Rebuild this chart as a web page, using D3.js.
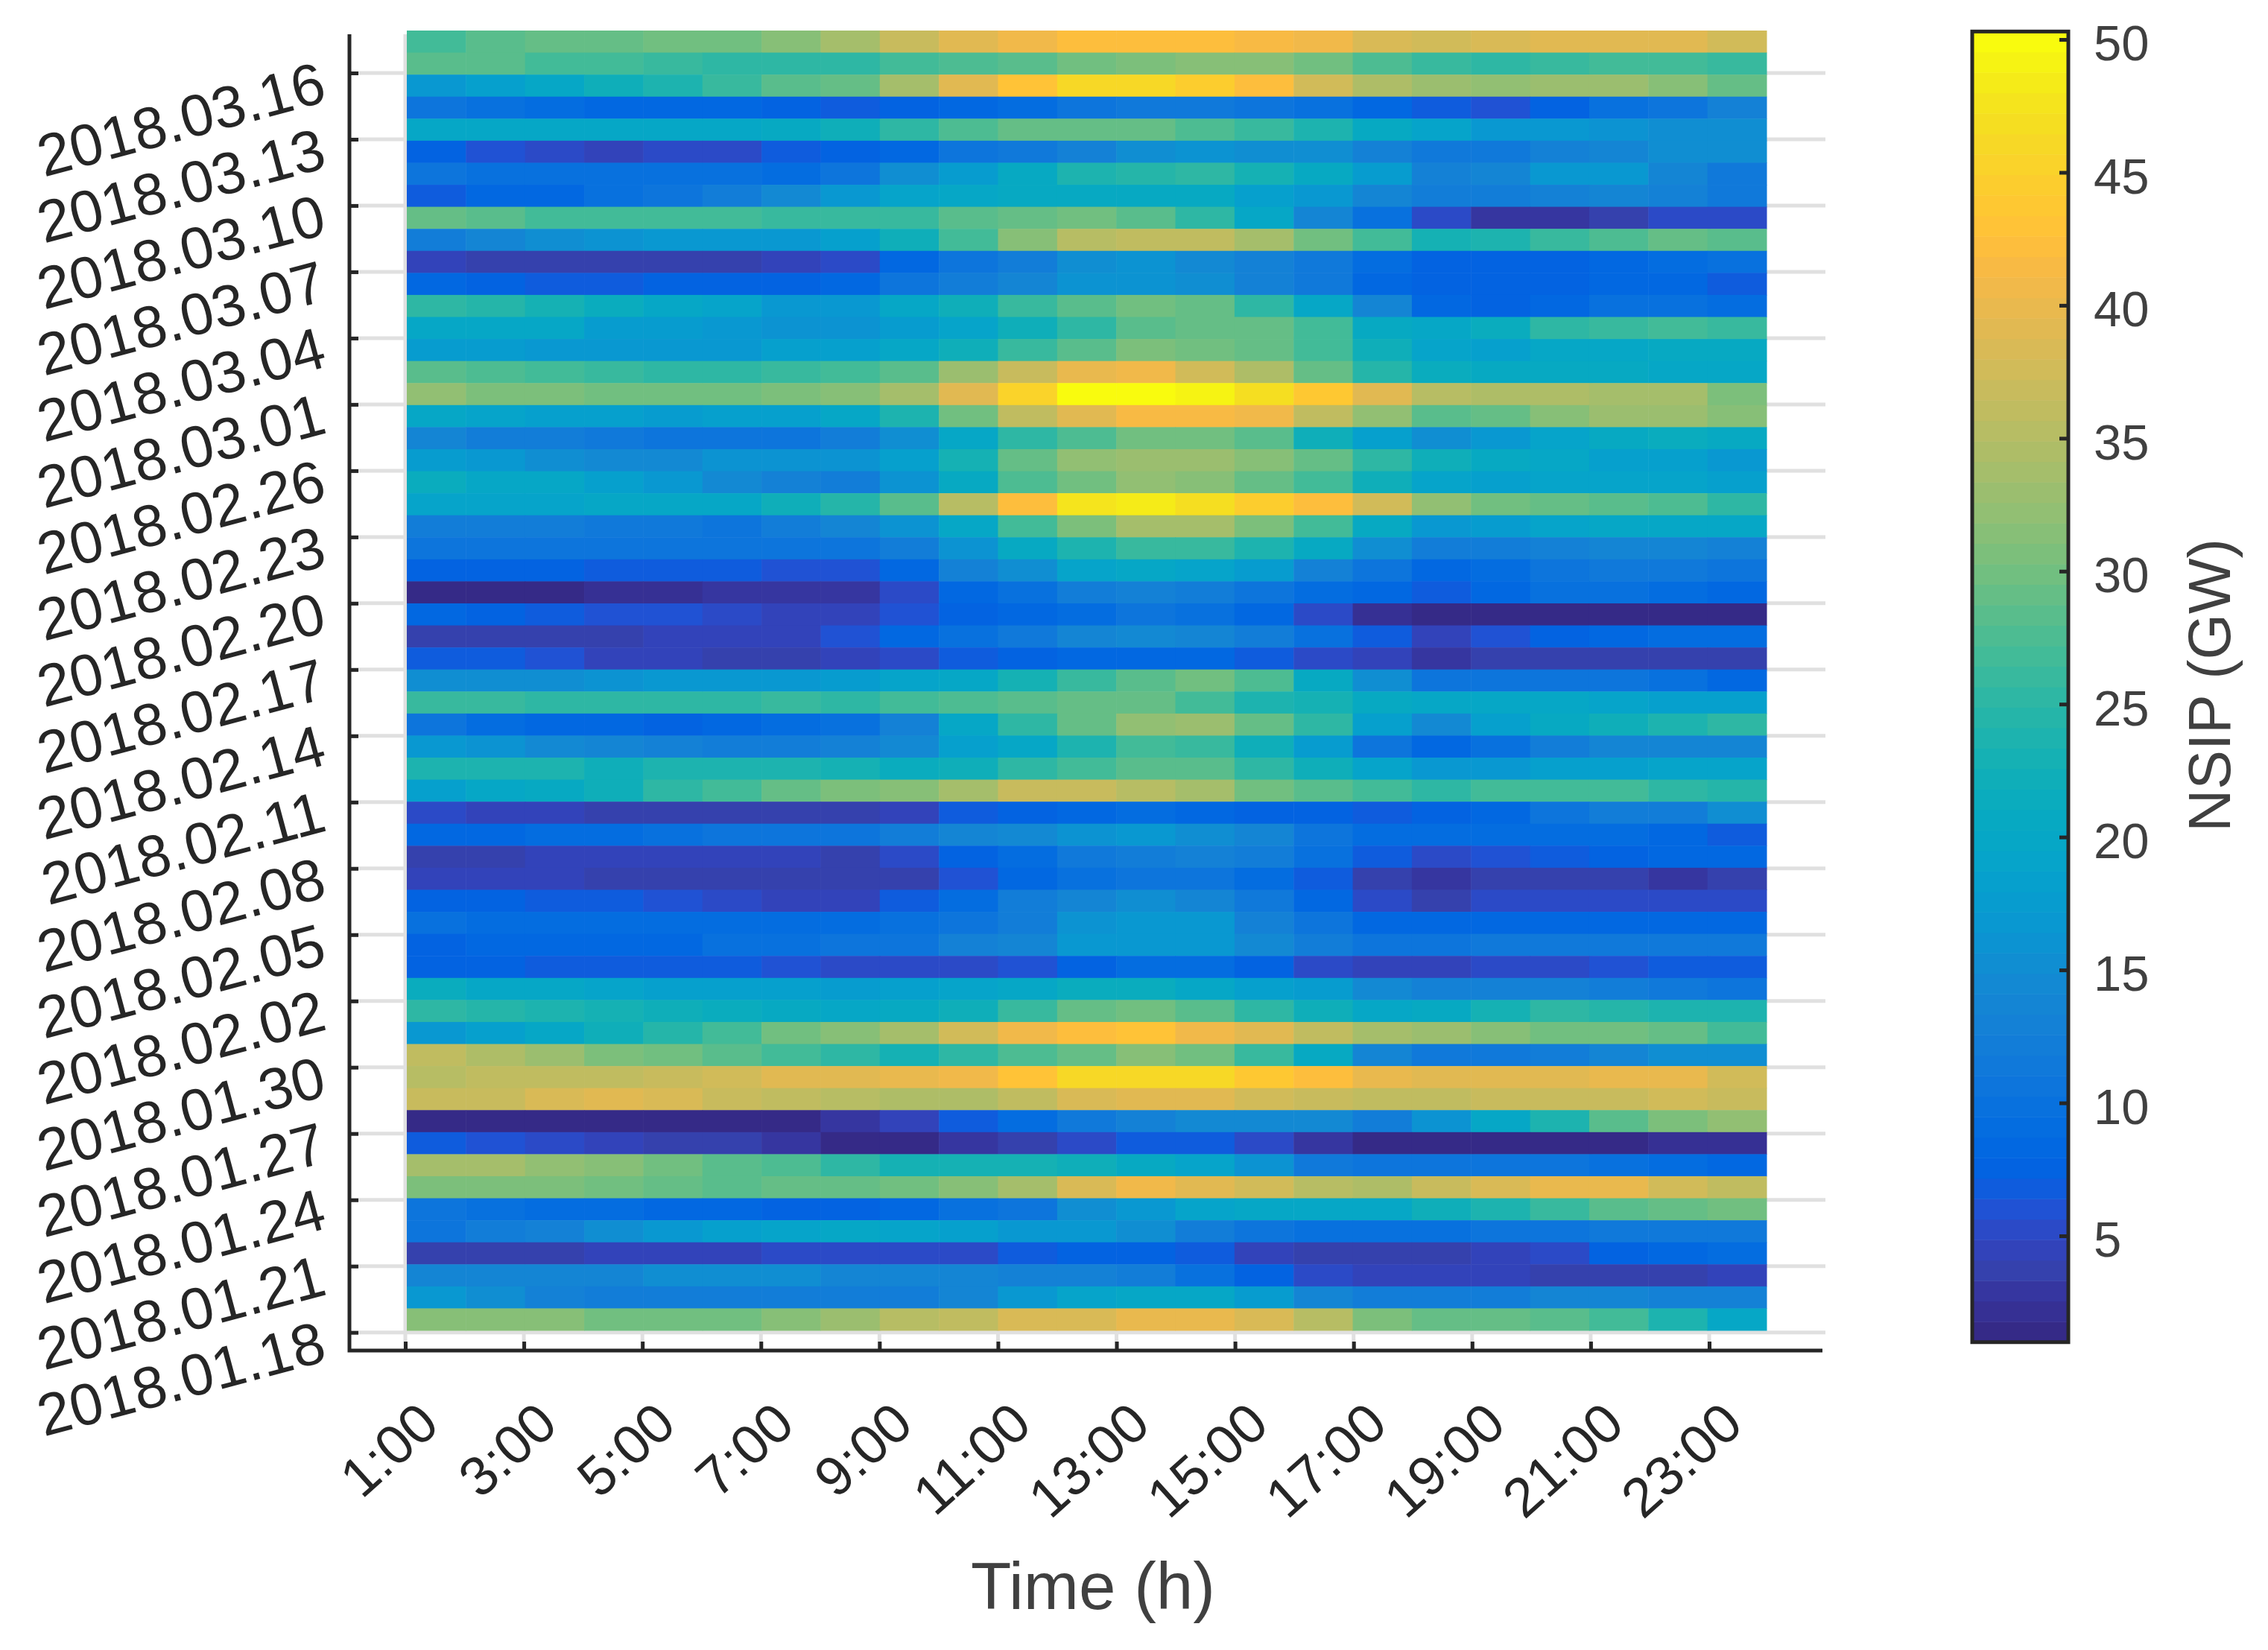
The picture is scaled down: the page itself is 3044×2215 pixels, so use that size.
<!DOCTYPE html>
<html>
<head>
<meta charset="utf-8">
<script src="https://cdn.jsdelivr.net/npm/d3@7"></script>
<style>
  body { margin: 0; background: #fff; }
  text { font-family: "Liberation Sans", Arial, sans-serif; }
</style>
</head>
<body>
<svg id="chart" width="3044" height="2215"></svg>
<script>
// Tick labels
const dateTicks = ["2018.01.18","2018.01.21","2018.01.24","2018.01.27","2018.01.30","2018.02.02","2018.02.05",
  "2018.02.08","2018.02.11","2018.02.14","2018.02.17","2018.02.20","2018.02.23","2018.02.26","2018.03.01",
  "2018.03.04","2018.03.07","2018.03.10","2018.03.13","2018.03.16"];
const hourTicks = [1,3,5,7,9,11,13,15,17,19,21,23];
const colorTicks = [5,10,15,20,25,30,35,40,45,50];

// MATLAB parula, 64 steps
const parula = ["#352a87","#363094","#3636a0","#3541ad","#3243ba","#2b4ac7","#2052d4","#0f5cdd","#0363e1","#0268e1",
  "#046de0","#0871de","#0d75dc","#1079da","#127dd8","#1481d6","#1485d4","#1389d3","#108ed2","#0c93d2",
  "#0998d1","#079ccf","#06a0cd","#06a4ca","#06a7c6","#07a9c2","#0aacbe","#0faeb9","#15b1b4","#1db3af",
  "#25b5a9","#2eb7a4","#38b99e","#42bb98","#4dbc92","#59bd8c","#65be86","#71bf80","#7cbf7b","#87bf77",
  "#92bf73","#9bbe6f","#a5be6b","#aebd67","#b7bd64","#c0bc60","#c8bb5d","#d1bb59","#d9ba56","#e1b952",
  "#e9b94e","#f1b94a","#f8ba44","#fdbe3d","#ffc337","#fec832","#fccd2e","#fad32a","#f7d826","#f5de21",
  "#f5e41d","#f5eb18","#f6f313","#f9fb0e"];

// NSIP in GW, one row per day, last day first, hours 1 to 23
const nsip = [
  [27,28,29,29.3,30,30,31.5,33.7,37,39,41,42,42.5,42.5,41.5,40.5,38,37.5,38,39.2,39.2,39.2,37.6],
  [28,28,26.8,26.8,26,25.2,25.2,25.2,26.5,27.5,28,30,30.7,31.5,31.5,30,27.8,26,25.2,26,26.8,26.8,26],
  [16.8,18.3,20,22,23.7,26,28,29,33.7,39,43,46,46,44.5,42.2,37.6,34.5,33,32.2,33,33,31.4,29],
  [10.6,10.2,9,8.3,8.3,8.3,7.5,6.8,7.5,8.3,9.1,11,11.4,11.4,11,10.2,8.3,6.8,5.8,7.9,9.6,10.3,13],
  [19.5,19.5,19.5,19.5,19.9,19.9,20.6,22,25,27.6,29,29.5,29.4,27.6,26,24,21,19,17,16.5,16,15.5,15],
  [7.5,6.2,5.5,4.8,5.5,5.5,6.4,7.5,8.3,10.4,11.5,13,15,16,15.6,15,13,11.6,11.2,12.6,14,15.3,15.5],
  [11,10,9.8,9.8,9.8,9.8,9.4,11,15,17.6,20.6,23.5,24.2,25.5,23,20.6,17.6,12.8,14,17,17,13.8,11.2],
  [6.8,8,8.5,10.2,10.8,12,14.5,17,19,20,20.5,21,21,20.8,18.5,17,14,12.4,12,13,13.4,13.2,11.4],
  [29,28,27,27,27,27,26.3,26.3,26.3,28,29.4,30,28.5,25.5,19.8,14,9.5,5.2,3,3,4,5,5],
  [12.5,14,15,16,16.8,16.8,16.8,18.3,22,26.8,31.5,35.3,36,35.8,33.7,30,26.5,23,23.7,26,27.8,29,28.5],
  [4.6,3.8,3.8,3.8,3.8,3.8,4.7,5.6,8.3,10.4,12.5,15.5,16,14.5,13,11.2,9,7.5,7.2,7.6,8.2,9,10.2],
  [8.2,7.5,6.7,6.7,7.2,7.4,7.5,8,10.3,12.5,13.5,16,16,15.3,13,11.2,8.6,7.5,7.4,7.8,8,8.4,6.6],
  [25,24.2,23,21.4,20,18.8,17,17,19.5,22.5,26,28.5,30,29,25.3,19.5,13.5,8,7.5,8,9.8,10,9],
  [20,20,19.5,17.5,17.5,17,16,16,17.5,19,22,25,28.5,29.5,29.5,26.5,20.3,20,21.5,25.3,26,26.5,26],
  [17.5,17.5,16.5,16.5,17,17,18,18.5,19.5,22,26,28.7,31,30,29.4,26.5,22,19,18.2,20,20,20.8,20.8],
  [28.3,27.8,27,26,25.2,25.2,26,27,28.5,33,36.5,40,40.5,37.5,34.5,29.4,24.5,21.6,20.5,21,21,20,19.5],
  [32,31,30.5,30,30,30,30.7,31.6,34,39.5,45.5,50,50,49,47,43.8,39.5,35.5,34.5,34.5,33.8,33.8,30.5],
  [19.5,19,18.5,18,17.5,18.3,18.6,20,23.5,30,36,39.5,41.5,41.5,40.5,36.3,32,28.3,29.3,31.5,33,33,31.8],
  [14,12.2,12.2,11.4,11,11,11,12.5,15,20,25,27.7,30,30,28.3,22.5,18.5,15.5,16.5,19,21,21.4,21],
  [17.5,17,15,14.5,14.5,16,16,16,18.3,23,29.5,32,33.3,33.3,31.7,29.5,25,22.5,20.5,20,18.3,18,16.5],
  [21.4,20,19.5,18,17,14.8,13,12.2,16,21,27.5,30,32,31.5,29,26.5,22,19,18.5,19.2,19.2,19.2,18.5],
  [19,19,19,19.5,19.5,20,22,24.5,28.5,35.3,42.5,47.5,48,47,44.7,42.5,37.8,32,30,29.3,28.5,27.6,25.3],
  [12.5,12,11.8,11.5,11.2,11,12,13.8,16,20,27,31,33.5,33.5,30.5,26.8,20.5,17,17.8,19,19.5,19.8,19.8],
  [10.4,10.4,10.4,10.4,10.4,10.4,10.4,10.4,12,16,20.5,24,26,26,23.7,20.5,15,11.8,12.2,13.2,13.4,13.4,13.2],
  [7.9,7.9,7.9,6.8,6.8,6.8,5.7,5.7,8,12.8,15.5,19.2,20,19.2,17.5,13,10.4,8,9.2,10.6,11.2,11.3,10.8],
  [1.3,1.3,1.3,2,2,2.6,2.6,3.2,5.5,8.3,10,12.5,12.8,12.2,10.5,8.8,8,6.8,8,9.8,9.8,9,8.3],
  [8,7.7,6.8,5.7,5.7,5,4.5,4.5,5.7,7.3,8.6,9,10.6,10,8.6,5,2.5,1.3,1.3,1.3,1.3,1.3,1.3],
  [3.4,3.7,3.7,3.7,4.8,4.8,4.8,5.8,8,10,11.2,13.4,14.5,13.4,12,9.8,6.8,4.8,5.8,7.6,8,8.8,8.8],
  [6.7,6.6,5.7,4.5,4.5,3.7,3.7,4.5,5,6.8,7.8,8,8,8,6.8,5,4.5,3.3,3.7,3.7,3.7,3.7,3.7],
  [15,15.5,15.5,16,16.8,16.8,16.8,17.5,19,20,23,26,28.5,30,27.5,21,15.5,11,11,11,11,9.5,8],
  [26,26,25,25,25,25.5,26,25.3,27,27.8,28.4,29.4,29.4,26.5,24,23,21,20,19.8,19.8,19,18,18.5],
  [10.4,9,8,8,7.8,8,9,10,13,19.5,25,29.5,32,33,29,25.5,18,14.5,18.5,21,22,24,25],
  [17,16,14.5,13.8,12.8,12,12.5,13,14.5,18,20,23.5,26.5,26,22.5,17.5,10.6,8,10,12.5,14,14,13.4],
  [23.5,23.5,23.5,22.5,23.5,23.7,23.7,22.8,21.5,22.5,25.5,26.5,28.5,28,25,22,19,17,17,18,18.5,18.8,19],
  [18.5,20,21,22.5,25,27,29.3,30.7,31.7,34,36.5,36.5,35,33.5,30,28.5,26.5,25.5,27,26.5,26.5,25,24.5],
  [5.2,4.5,4.5,3.7,3.7,3.7,3.7,3.7,4.5,6.7,7.5,8,8.8,8.2,7.8,7.6,6.8,7.2,8,10.6,12,12.5,15],
  [8.5,8.5,9,9,9.5,10.4,10.4,10.8,12,14,14.5,16,16.5,15.5,13.5,10.8,9,9,9.3,9.3,8.8,8,6.6],
  [3.7,3.7,4.5,4.5,4.5,4.5,4.5,3.7,5.2,7.5,9,11.5,12.5,13,12,9.5,7,5,5.8,6.8,7.6,8.2,8.3],
  [4.5,4.5,4.5,3.7,3.7,3.7,3.7,3.7,3.9,5.9,8.5,10,10.6,10.3,9,6.5,3.7,2.9,3.7,3.7,3.7,2.9,3.4],
  [7.6,7.6,7,7,6,5.2,4.5,4.5,7,9,12,14,15.5,13.5,11.5,8.5,5.2,3.7,5.2,5.2,5.2,5.2,5.2],
  [10.2,9.2,9.2,9.2,9.2,9.2,9.2,9,9.8,11,12.5,16,16.8,16.8,13,10.4,8.3,8.3,8.3,8.3,8.3,8.3,8],
  [7.8,8.3,8.6,8.6,8.6,9.5,9.5,10.4,10.6,13,13.5,16.8,17,17,14.5,12.5,11,11,11.5,11.5,11.5,11.5,11.5],
  [7.5,7.5,6.9,6.9,6.9,6.9,5.8,5.2,5.2,5.4,5.7,7.8,8.8,8.8,7.8,5.5,4.5,4.5,5.2,5.2,5.8,6.8,6.8],
  [21.4,20,19.5,19,18.6,18.6,18,17.8,18,19,20,21.5,21.5,20,18.5,17.6,14.5,13,12.8,12.8,12,11.3,10.5],
  [25,24.2,23.5,22.8,22,21.5,20.6,20,20.6,22.5,26,29.5,30,28.5,25.3,21.8,19.5,21,23,25,24.5,24,24],
  [16.5,18.3,20,22,24.3,26.8,30,31.7,34,37.5,41,42.5,43.2,41,38.8,36.2,34,33.2,31.6,30,29.8,29,26.8],
  [36.3,34.5,33,31,30,28.4,26.8,25.2,23,25,27.5,29.5,31.8,30,26,20.4,14,11.7,11.4,11.9,13.8,15,15.5],
  [35.3,36,36,36,37,37.8,39.5,39.5,40,41,43,45.8,46,46,43.5,42.5,40,39.5,39.3,39,40.2,40.2,37.8],
  [36.5,36.5,38,39,38,37,36,35.3,34.3,34.3,36,38,39.5,39.5,37.8,37,36,36,36.8,36.8,36.8,37.6,37],
  [1.6,1.6,1.6,1.6,1.6,1.6,1.6,3,4.4,7,9,11.5,13.3,14.5,14.8,14.5,12.5,15.8,19.5,23.7,28,30.8,32],
  [7,6,5.2,4.4,3.6,3.6,2.8,1.4,1.4,2.6,3.4,5,6.8,6.8,5,2.8,1.3,1.3,1.3,1.3,1.3,1.8,1.8],
  [34,33.8,32,31.6,30,28.5,27.6,25,23.3,22.6,23,22.5,21,19,15.8,11.3,10.4,10.4,10.4,10.8,10,9.2,8],
  [31,31,31,29.8,29.3,28.3,29.3,29.3,30,31.5,34,38,40.5,39.5,37.5,35,34.5,37,38.5,39.8,39.8,37.5,36],
  [10.6,10,9.2,9,8.5,8.5,7.9,7.9,8,9.5,11,15,17,19,19.5,19.5,20,22,23.5,26,28,29,30],
  [11,12.5,13,15,16.8,18,19,20,19,18,17,16.5,15,12.2,10.4,9.6,9.5,10,11,11,11.2,11.2,11.2],
  [3.7,3.7,3.7,4.7,4.7,4.7,5.6,5.6,5.6,5.6,6.8,7.3,7.8,6.8,4.8,3.7,3.7,3.7,4.7,5.5,7.5,8.6,8.8],
  [14,14,14,14,15,15,15,14,14,14,13,13,12,9.6,7.8,5,4.5,4.5,4.5,3.7,3.7,3.7,4.5],
  [17,15,12.8,12,12,12,12,12,12,14,16.5,19,20,19.9,17.5,14,11.8,12,12.5,13.5,13.8,12.8,12.8],
  [31.5,31.5,31.5,29.8,29.8,29.8,31.5,33,35.3,36,38,38,40,40,38.5,35.5,31,29.5,28.8,28,26.8,24,20]
];

const ink = "#262626";
const grey = "#404040";
const gridColor = "#e0e0e0";
const numDays = nsip.length;
const numHours = nsip[0].length;

const svg = d3.select("#chart");

// scales: ticks and cells sit a little apart in the picture
const xTick = d3.scaleLinear().domain([1, 23]).range([544, 2294]);
const yTick = d3.scaleLinear().domain([0, 57]).range([1788.7, 98]);
const xCell = d3.scaleLinear().domain([0, numHours]).range([546, 2371]);
const yCell = d3.scaleLinear().domain([0, numDays]).range([1786, 41]);
const color = d3.scaleQuantize().domain([1, 50.3]).range(parula);

// grid behind the cells
const grid = svg.append("g").attr("stroke", gridColor).attr("stroke-width", 5);
grid.selectAll("line.h")
  .data(dateTicks)
  .enter()
  .append("line")
  .attr("class", "h")
  .attr("x1", 471)
  .attr("x2", 2450)
  .attr("y1", (d, i) => yTick(i * 3))
  .attr("y2", (d, i) => yTick(i * 3));
grid.selectAll("line.v")
  .data(hourTicks)
  .enter()
  .append("line")
  .attr("class", "v")
  .attr("x1", (d) => xTick(d))
  .attr("x2", (d) => xTick(d))
  .attr("y1", 46)
  .attr("y2", 1811);

// heat map cells
nsip.forEach((row, i) => {
  const day = numDays - 1 - i;
  svg.append("g")
    .selectAll("rect")
    .data(row)
    .enter()
    .append("rect")
    .attr("x", (d, h) => xCell(h))
    .attr("y", yCell(day + 1))
    .attr("width", (d, h) => xCell(h + 1) - xCell(h) + 0.5)
    .attr("height", yCell(day) - yCell(day + 1) + 0.5)
    .attr("fill", (d) => color(d));
});

// x axis
const xAxis = d3.axisBottom(xTick)
  .tickValues(hourTicks)
  .tickSize(-12)
  .tickFormat((d) => d + ":00");
const xG = svg.append("g")
  .attr("transform", "translate(0,1813)")
  .call(xAxis);
xG.select(".domain").remove();
xG.selectAll(".tick line").attr("stroke", ink).attr("stroke-width", 5);
xG.selectAll(".tick text")
  .attr("font-size", 74)
  .attr("fill", ink)
  .attr("text-anchor", "end")
  .attr("transform", "translate(48,104) rotate(-42)")
  .attr("x", 0)
  .attr("y", 0)
  .attr("dy", 0);

// y axis
const yAxis = d3.axisLeft(yTick)
  .tickValues(dateTicks.map((d, i) => i * 3))
  .tickSize(-12)
  .tickFormat((d) => dateTicks[d / 3]);
const yG = svg.append("g")
  .attr("transform", "translate(469,0)")
  .call(yAxis);
yG.select(".domain").remove();
yG.selectAll(".tick line").attr("stroke", ink).attr("stroke-width", 5);
yG.selectAll(".tick text")
  .attr("font-size", 79)
  .attr("fill", ink)
  .attr("text-anchor", "end")
  .attr("transform", "translate(-28,37) rotate(-15)")
  .attr("x", 0)
  .attr("y", 0)
  .attr("dy", 0);

// axis lines
svg.append("path")
  .attr("d", d3.line()([[469, 46], [469, 1813], [2446, 1813]]))
  .attr("fill", "none")
  .attr("stroke", ink)
  .attr("stroke-width", 5);

svg.append("text")
  .attr("x", 1467)
  .attr("y", 2160)
  .attr("text-anchor", "middle")
  .attr("font-size", 89)
  .attr("fill", grey)
  .text("Time (h)");

// colorbar
const yBar = d3.scaleLinear().domain([5, 50]).range([1659, 53]);
const barLeft = 2647;
const barWidth = 129;
const barSteps = parula.map((c) => color.invertExtent(c));

svg.append("g")
  .selectAll("rect")
  .data(barSteps)
  .enter()
  .append("rect")
  .attr("x", barLeft)
  .attr("y", (d) => yBar(d[1]))
  .attr("width", barWidth)
  .attr("height", (d) => yBar(d[0]) - yBar(d[1]) + 0.5)
  .attr("fill", (d) => color((d[0] + d[1]) / 2));

svg.append("rect")
  .attr("x", barLeft)
  .attr("y", yBar(50.3))
  .attr("width", barWidth)
  .attr("height", yBar(1) - yBar(50.3))
  .attr("fill", "none")
  .attr("stroke", ink)
  .attr("stroke-width", 5);

const barAxis = d3.axisRight(yBar)
  .tickValues(colorTicks)
  .tickSize(-12)
  .tickPadding(34);
const barG = svg.append("g")
  .attr("transform", `translate(${barLeft + barWidth},0)`)
  .call(barAxis);
barG.select(".domain").remove();
barG.selectAll(".tick line").attr("stroke", ink).attr("stroke-width", 5);
barG.selectAll(".tick text")
  .attr("font-size", 67)
  .attr("fill", grey)
  .attr("x", 34)
  .attr("y", 3)
  .attr("dy", "0.37em");

svg.append("text")
  .attr("transform", "translate(2993,920) rotate(-90)")
  .attr("text-anchor", "middle")
  .attr("font-size", 79)
  .attr("fill", grey)
  .text("NSIP (GW)");
</script>
</body>
</html>
